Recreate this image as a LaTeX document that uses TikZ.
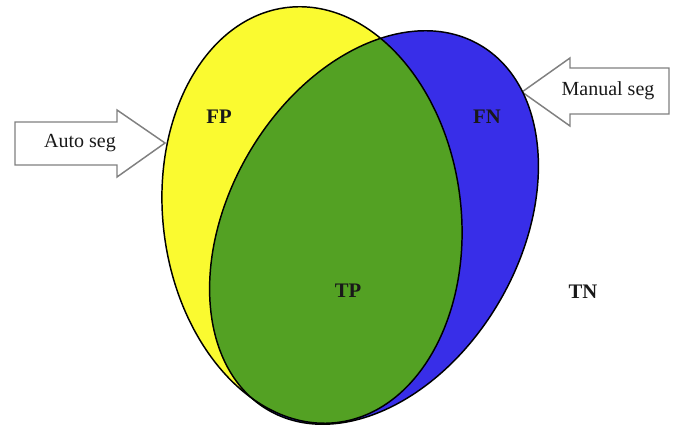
\documentclass[tikz,border=0pt]{standalone}
\usepackage{fontspec}
\setmainfont{Liberation Serif}
\definecolor{autoyellow}{RGB}{250,250,48}
\definecolor{manblue}{RGB}{56,46,232}
\definecolor{tpgreen}{RGB}{83,161,35}
\definecolor{arrowgray}{RGB}{128,128,128}
\begin{document}
\begin{tikzpicture}[x=0.75pt,y=-0.75pt,
  region/.style={font=\bfseries\fontsize{15.5}{18}\selectfont, text=black!90},
  arrowtext/.style={font=\fontsize{15}{18}\selectfont, text=black!90},
  blockarrow/.style={draw=arrowgray, line width=1.1pt, fill=white, line join=miter},
  outline/.style={draw=black, line width=1.1pt}]
\useasboundingbox (0,0) rectangle (678,427);
% block arrows
\draw[blockarrow] (15,122) -- (117,122) -- (117,110) -- (165,143) -- (117,177) -- (117,165) -- (15,165) -- cycle;
\draw[blockarrow] (669,68) -- (570,68) -- (570,58) -- (522,92) -- (570,126) -- (570,114) -- (669,114) -- cycle;
% regions
\fill[autoyellow, rotate around={7:(312,215)}] (312,215) ellipse [x radius=111.75pt, y radius=156.75pt];
\fill[manblue, rotate around={-30:(374,227.5)}] (374,227.5) ellipse [x radius=109.2pt, y radius=158.25pt];
\begin{scope}
  \clip[rotate around={7:(312,215)}] (312,215) ellipse [x radius=111.75pt, y radius=156.75pt];
  \fill[tpgreen, rotate around={-30:(374,227.5)}] (374,227.5) ellipse [x radius=109.2pt, y radius=158.25pt];
\end{scope}
\draw[outline, rotate around={7:(312,215)}] (312,215) ellipse [x radius=111.75pt, y radius=156.75pt];
\draw[outline, rotate around={-30:(374,227.5)}] (374,227.5) ellipse [x radius=109.2pt, y radius=158.25pt];
% labels
\node[region] (fp) at (219,117) {FP};
\node[region] (fn) at (487,117) {FN};
\node[region] (tp) at (348,291) {TP};
\node[region] (tn) at (583,292) {TN};
\node[arrowtext] (auto) at (80,143) {Auto seg};
\node[arrowtext] (manual) at (608,91) {Manual seg};
\end{tikzpicture}
\end{document}
